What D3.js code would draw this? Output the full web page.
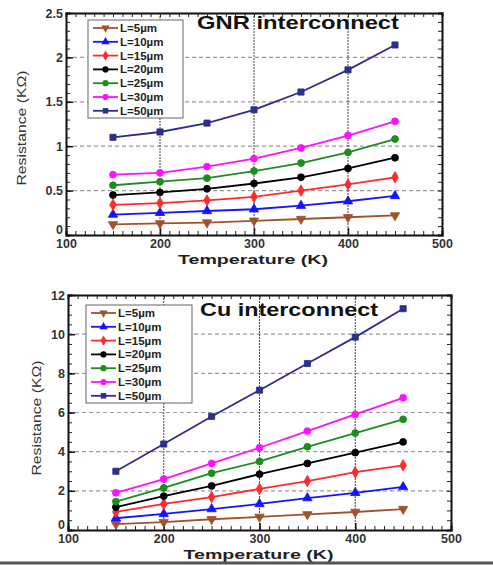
<!DOCTYPE html>
<html>
<head>
<meta charset="utf-8">
<script src="https://cdn.jsdelivr.net/npm/d3@7"></script>
<style>
  html, body { margin: 0; padding: 0; background: #fff; }
  text { font-family: Arial, "Liberation Sans", sans-serif; }
</style>
</head>
<body>
<div id="chart"></div>
<script>
// data
const temperatures = [150, 200, 250, 300, 350, 400, 450];
const seriesNames = ['L=5\u00b5m', 'L=10\u00b5m', 'L=15\u00b5m', 'L=20\u00b5m', 'L=25\u00b5m', 'L=30\u00b5m', 'L=50\u00b5m'];

const gnrL5  = [0.12, 0.13, 0.14, 0.16, 0.18, 0.20, 0.22];
const gnrL10 = [0.23, 0.25, 0.27, 0.29, 0.33, 0.38, 0.44];
const gnrL15 = [0.34, 0.36, 0.39, 0.43, 0.50, 0.57, 0.65];
const gnrL20 = [0.45, 0.48, 0.52, 0.58, 0.65, 0.75, 0.87];
const gnrL25 = [0.56, 0.60, 0.64, 0.72, 0.81, 0.93, 1.08];
const gnrL30 = [0.68, 0.70, 0.77, 0.86, 0.98, 1.12, 1.28];
const gnrL50 = [1.10, 1.16, 1.26, 1.41, 1.61, 1.86, 2.14];

const cuL5  = [0.30, 0.40, 0.55, 0.67, 0.80, 0.92, 1.07];
const cuL10 = [0.60, 0.82, 1.07, 1.33, 1.63, 1.90, 2.20];
const cuL15 = [0.92, 1.33, 1.68, 2.10, 2.50, 2.95, 3.30];
const cuL20 = [1.17, 1.73, 2.25, 2.85, 3.40, 3.95, 4.50];
const cuL25 = [1.45, 2.15, 2.90, 3.50, 4.25, 4.95, 5.65];
const cuL30 = [1.90, 2.60, 3.40, 4.20, 5.05, 5.90, 6.75];
const cuL50 = [3.00, 4.39, 5.80, 7.14, 8.50, 9.85, 11.30];

const xTicks = [100, 200, 300, 400, 500];
const gnrYTicks = [0, 0.5, 1, 1.5, 2, 2.5];
const cuYTicks = [0, 2, 4, 6, 8, 10, 12];

const colors = ['#a0522d', '#1414ff', '#ff2a2a', '#000000', '#1e8c1e', '#ff10ff', '#2e2e8c'];
const shapes = [d3.symbolTriangle, d3.symbolTriangle, d3.symbolDiamond, d3.symbolCircle, d3.symbolCircle, d3.symbolCircle, d3.symbolSquare];

const W = 493, H = 565;
const svg = d3.select('#chart').append('svg')
  .attr('width', W).attr('height', H)
  .attr('viewBox', `0 0 ${W} ${H}`);

function drawPanel(cfg) {
  const x = d3.scaleLinear().domain([100, 500]).range([cfg.left, cfg.right]);
  const y = d3.scaleLinear().domain(cfg.yDomain).range([cfg.bottom, cfg.top]);
  const g = svg.append('g');

  // grid
  g.selectAll('.hgrid').data(cfg.yTicks.slice(1, -1)).enter().append('line')
    .attr('x1', cfg.left).attr('x2', cfg.right)
    .attr('y1', d => y(d)).attr('y2', d => y(d))
    .attr('stroke', '#9a9a9a').attr('stroke-width', 1.2).attr('stroke-dasharray', '4,3');
  g.selectAll('.vgrid').data(xTicks.slice(1, -1)).enter().append('line')
    .attr('y1', cfg.top).attr('y2', cfg.bottom)
    .attr('x1', d => x(d)).attr('x2', d => x(d))
    .attr('stroke', '#444').attr('stroke-width', 1).attr('stroke-dasharray', '2,1');

  // box with minor ticks on all sides
  const yMinorVals = d3.range(cfg.yDomain[0], cfg.yDomain[1] + 1e-9, cfg.yMinor);
  const xMinorVals = d3.range(100, 501, 10);
  g.append('g').attr('transform', `translate(${cfg.left},0)`).call(d3.axisLeft(y).tickValues(yMinorVals).tickSize(-4).tickFormat(''));
  g.append('g').attr('transform', `translate(${cfg.right},0)`).call(d3.axisRight(y).tickValues(yMinorVals).tickSize(-4).tickFormat(''));
  g.append('g').attr('transform', `translate(0,${cfg.bottom})`).call(d3.axisBottom(x).tickValues(xMinorVals).tickSize(-4).tickFormat(''));
  g.append('g').attr('transform', `translate(0,${cfg.top})`).call(d3.axisTop(x).tickValues(xMinorVals).tickSize(-4).tickFormat(''));
  g.selectAll('.domain').attr('stroke', '#111').attr('stroke-width', 2);
  g.selectAll('.tick line').attr('stroke', '#222').attr('stroke-width', 1);

  // major tick labels
  const tickFont = a => a.selectAll('text')
    .attr('font-family', '"DejaVu Sans", sans-serif')
    .attr('font-size', 12.5).attr('font-weight', 'bold').attr('fill', '#333');
  g.append('g').attr('transform', `translate(${cfg.left},0)`)
    .call(d3.axisLeft(y).tickValues(cfg.yTicks).tickSize(-7).tickPadding(3).tickFormat(d3.format('~g')))
    .call(a => a.select('.domain').remove())
    .call(tickFont)
    .call(a => a.selectAll('text').filter(d => d === 0).attr('dy', '-0.1em'))
    .call(a => a.selectAll('line').attr('stroke', '#111').attr('stroke-width', 1.5));
  g.append('g').attr('transform', `translate(0,${cfg.bottom})`)
    .call(d3.axisBottom(x).tickValues(xTicks).tickSize(-7).tickPadding(4))
    .call(a => a.select('.domain').remove())
    .call(tickFont)
    .call(a => a.selectAll('line').attr('stroke', '#111').attr('stroke-width', 1.5));

  // series
  const line = d3.line().x((d, i) => x(temperatures[i])).y(d => y(d));
  cfg.series.forEach((vals, k) => {
    g.append('path').datum(vals)
      .attr('d', line).attr('fill', 'none')
      .attr('stroke', colors[k]).attr('stroke-width', 1.8);
    g.selectAll(null).data(vals).enter().append('path')
      .attr('transform', (d, i) => `translate(${x(temperatures[i])},${y(d)})` + (k === 0 ? ' rotate(180)' : ''))
      .attr('d', d3.symbol().type(shapes[k]).size(38))
      .attr('fill', colors[k]).attr('stroke', colors[k]).attr('stroke-width', 0.8);
  });

  // legend
  const lg = g.append('g').attr('transform', `translate(${cfg.legX},${cfg.legY})`);
  lg.append('rect').attr('width', cfg.legW).attr('height', 98)
    .attr('fill', '#fff').attr('stroke', '#666').attr('stroke-width', 1);
  seriesNames.forEach((name, k) => {
    const yy = 8 + k * 13.8;
    lg.append('line').attr('x1', 5).attr('x2', 30).attr('y1', yy).attr('y2', yy)
      .attr('stroke', colors[k]).attr('stroke-width', 1.8);
    lg.append('path')
      .attr('transform', `translate(17.5,${yy})` + (k === 0 ? ' rotate(180)' : ''))
      .attr('d', d3.symbol().type(shapes[k]).size(30)).attr('fill', colors[k]);
    lg.append('text').attr('x', 32).attr('y', yy + 4)
      .attr('font-size', 11.5).attr('font-weight', 'bold').attr('fill', '#222').text(name);
  });

  // title
  g.append('text').attr('x', cfg.titleX).attr('y', cfg.titleY)
    .attr('font-size', 18).attr('font-weight', 'bold').attr('fill', '#111')
    .attr('textLength', cfg.titleW).attr('lengthAdjust', 'spacingAndGlyphs')
    .text(cfg.title);

  // axis labels
  g.append('text').attr('x', (cfg.left + cfg.right) / 2 - 1).attr('y', cfg.bottom + 29)
    .attr('text-anchor', 'middle').attr('font-size', 13.5).attr('font-weight', 'bold').attr('fill', '#222')
    .attr('textLength', 150).attr('lengthAdjust', 'spacingAndGlyphs')
    .text('Temperature (K)');
  g.append('text')
    .attr('transform', `translate(${cfg.yLabelX},${cfg.yLabelY}) rotate(-90)`)
    .attr('text-anchor', 'middle').attr('font-size', 12.5).attr('fill', '#333')
    .attr('textLength', 115).attr('lengthAdjust', 'spacingAndGlyphs')
    .text('Resistance (K\u03a9)');
}

drawPanel({
  left: 66, right: 442, top: 13, bottom: 235,
  yDomain: [0, 2.5], yTicks: gnrYTicks, yMinor: 0.1,
  series: [gnrL5, gnrL10, gnrL15, gnrL20, gnrL25, gnrL30, gnrL50],
  legX: 88, legY: 20, legW: 95,
  title: 'GNR interconnect', titleX: 197, titleY: 29, titleW: 202,
  yLabelX: 26, yLabelY: 128
});

drawPanel({
  left: 68, right: 451, top: 295, bottom: 530,
  yDomain: [0, 12], yTicks: cuYTicks, yMinor: 0.5,
  series: [cuL5, cuL10, cuL15, cuL20, cuL25, cuL30, cuL50],
  legX: 86, legY: 305, legW: 106,
  title: 'Cu interconnect', titleX: 200, titleY: 316, titleW: 178,
  yLabelX: 41, yLabelY: 418
});

// bottom rule of the figure
svg.append('line').attr('x1', 0).attr('x2', W).attr('y1', 563).attr('y2', 563)
  .attr('stroke', '#555').attr('stroke-width', 3);
</script>
</body>
</html>
